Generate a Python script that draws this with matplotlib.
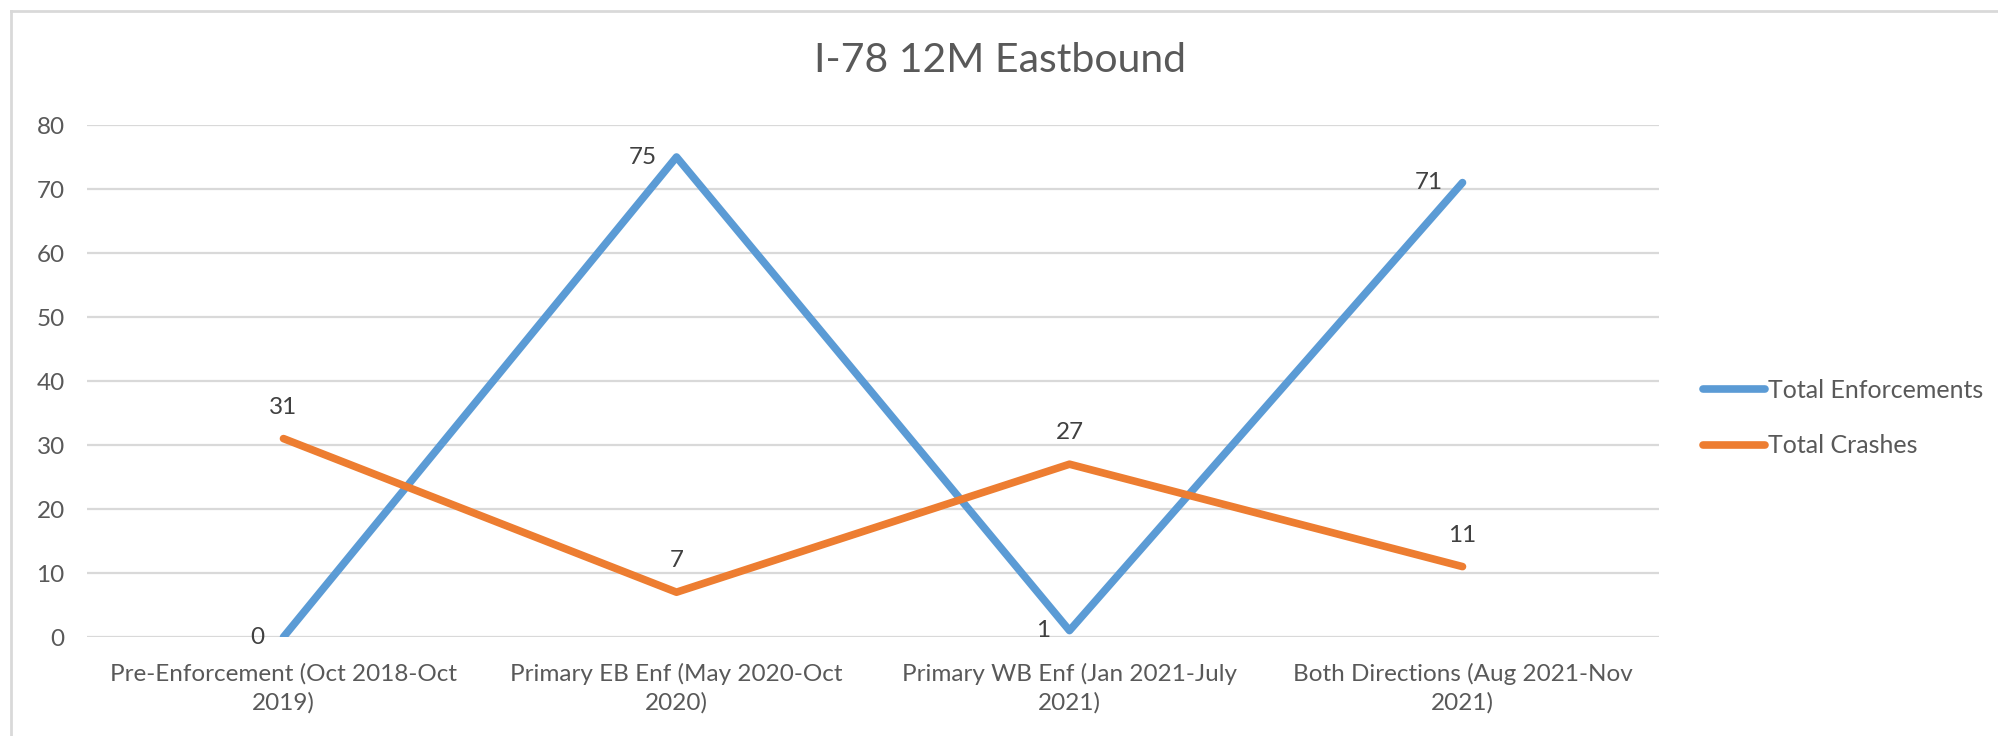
import numpy as np
import matplotlib
matplotlib.use("Agg")
import matplotlib.pyplot as plt
from matplotlib.lines import Line2D

plt.rcParams['font.family'] = ['Lato', 'DejaVu Sans']

# data
categories = ['Pre-Enforcement (Oct 2018-Oct\n2019)',
              'Primary EB Enf (May 2020-Oct\n2020)',
              'Primary WB Enf (Jan 2021-July\n2021)',
              'Both Directions (Aug 2021-Nov\n2021)']
enforcements = [0, 75, 1, 71]
crashes = [31, 7, 27, 11]
yticks = [0, 10, 20, 30, 40, 50, 60, 70, 80]

blue = '#5B9BD5'
orange = '#ED7D31'
grey = '#595959'

fig = plt.figure(figsize=(19.98, 7.36), dpi=100)
ax = fig.add_axes([87 / 1998, 1 - 637 / 736, (1659 - 87) / 1998, (637 - 125) / 736])

x = np.arange(len(categories))
ax.plot(x, enforcements, color=blue, lw=5.5, label='Total Enforcements', solid_capstyle='round', zorder=3)
ax.plot(x, crashes, color=orange, lw=5.5, label='Total Crashes', solid_capstyle='round', zorder=3)

# data labels
for xi, v in zip(x, enforcements):
    ax.annotate(str(v), (xi, v), xytext=(-14, 0), textcoords='offset points',
                ha='right', va='center', fontsize=17.5, color='#404040')
for xi, v in zip(x, crashes):
    ax.annotate(str(v), (xi, v), xytext=(0, 15), textcoords='offset points',
                ha='center', va='bottom', fontsize=17.5, color='#404040')

ax.set_xlim(-0.5, 3.5)
ax.set_ylim(0, 80)
ax.set_yticks(yticks)
ax.set_xticks(x)
ax.set_xticklabels(categories, fontsize=17.5, color=grey, linespacing=1.4)
ax.tick_params(axis='y', labelsize=17.5, labelcolor=grey, length=0, pad=16)
ax.tick_params(axis='x', length=0, pad=19)
ax.grid(axis='y', color='#D9D9D9', lw=1.6)
ax.set_axisbelow(True)
for s in ax.spines.values():
    s.set_visible(False)

fig.text(1000 / 1998, 1 - 61 / 736, 'I-78 12M Eastbound', ha='center', va='center',
         fontsize=29.5, color=grey)

leg = fig.legend(loc='center left', bbox_to_anchor=(1680 / 1998, 1 - 418 / 736), frameon=False,
                 fontsize=18, handlelength=2.5, handletextpad=0.1, labelspacing=1.3)
for t in leg.get_texts():
    t.set_color(grey)

# outer chart border (left and top only visible)
fig.add_artist(Line2D([11 / 1998, 1], [1 - 11 / 736, 1 - 11 / 736], color='#D9D9D9', lw=2,
                      transform=fig.transFigure))
fig.add_artist(Line2D([11 / 1998, 11 / 1998], [0, 1 - 11 / 736], color='#D9D9D9', lw=2,
                      transform=fig.transFigure))

fig.savefig('out.png', dpi=100)
